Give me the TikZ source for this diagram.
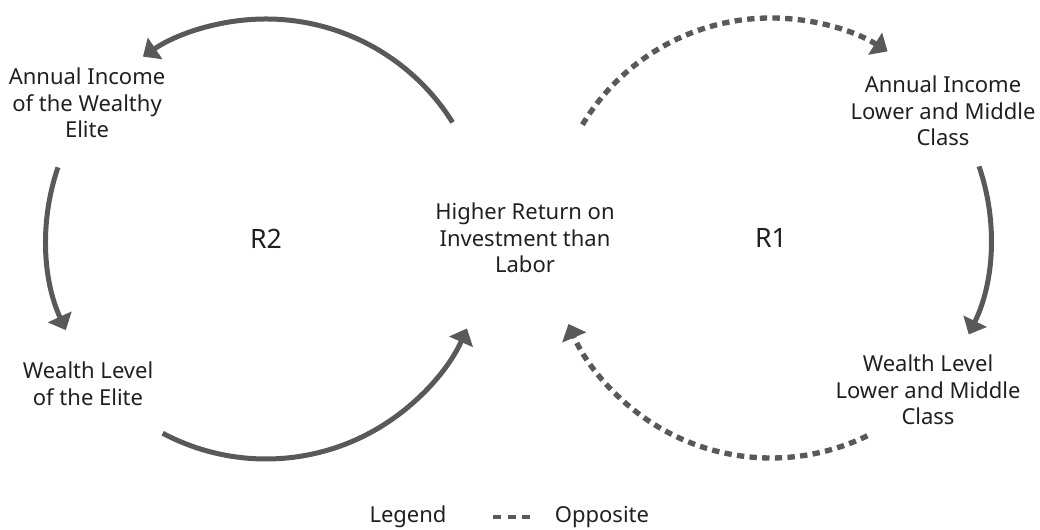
\documentclass[tikz,border=0pt]{standalone}
\usepackage{fontspec}
\setmainfont{Noto Sans}
\usetikzlibrary{arrows.meta, calc}

\definecolor{loopgray}{HTML}{58595B}
\definecolor{textgray}{HTML}{231F20}

\begin{document}
\begin{tikzpicture}[x=0.75pt, y=0.75pt,
    every node/.style={text=textgray, align=center, font=\fontsize{16.5}{20}\selectfont},
    loopname/.style={font=\fontsize{20}{24}\selectfont},
    link/.style={loopgray, line width=3.75pt, -{Triangle[length=11pt, width=19pt]}},
    opposite/.style={loopgray, line width=4pt, dash pattern=on 5.5pt off 4pt},
    oppositelink/.style={opposite, -{Triangle[length=11pt, width=19pt]}},
    legendline/.style={loopgray, line width=3.5pt, dash pattern=on 6pt off 5pt}]
    \useasboundingbox (0,0) rectangle (1040,530);

    % Variables
    \node (ret) at (525, 292) {Higher Return on\\Investment than\\Labor};
    \node (income2) at (87, 427) {Annual Income\\of the Wealthy\\Elite};
    \node (wealth2) at (88, 146) {Wealth Level\\of the Elite};
    \node (income1) at (943, 419) {Annual Income\\Lower and Middle\\Class};
    \node (wealth1) at (928, 140) {Wealth Level\\Lower and Middle\\Class};

    % Loop names
    \node[loopname] (R2) at (266, 291) {R2};
    \node[loopname] (R1) at (771, 292) {R1};

    % R2 (elite loop)
    \draw[link] ([shift={(32:165pt)}]R2.center) arc[start angle=32, end angle=124, radius=165pt];
    \draw[link] ([shift={(161:165pt)}]R2.center) arc[start angle=161, end angle=204.5, radius=165pt];
    \draw[link] ([shift={(242:165pt)}]R2.center) arc[start angle=242, end angle=336, radius=165pt];

    % R1 (lower and middle class loop)
    \draw[oppositelink] ([shift={(149:165pt)}]R1.center) arc[start angle=149, end angle=58, radius=165pt];
    \draw[link] ([shift={(19:165pt)}]R1.center) arc[start angle=19, end angle=-26, radius=165pt];
    \draw[oppositelink] ([shift={(-64:165pt)}]R1.center) arc[start angle=-64, end angle=-157, radius=165pt];

    % Legend
    \node (legend) at (408, 13) {Legend};
    \node (opp) at (602, 13) {Opposite};
    \coordinate (dashA) at (493, 13);
    \coordinate (dashB) at (530, 13);
    \draw[legendline] (dashA) -- (dashB);
\end{tikzpicture}
\end{document}
